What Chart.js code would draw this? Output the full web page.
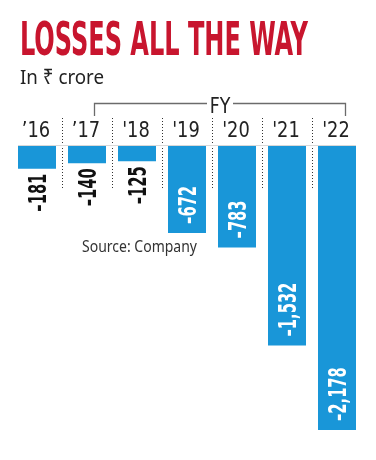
<!DOCTYPE html>
<html>
<head>
<meta charset="utf-8">
<script src="https://cdn.jsdelivr.net/npm/chart.js@4"></script>
<style>
  body { margin: 0; background: #fff; }
  #wrap { position: relative; width: 376px; height: 460px; }
</style>
</head>
<body>
<div id="wrap"><canvas id="myChart" width="376" height="460"></canvas></div>
<script>
const years = ["’16", "’17", "'18", "'19", "'20", "'21", "'22"];
const losses = [-181, -140, -125, -672, -783, -1532, -2178];
const valueLabels = ["–181", "–140", "–125", "–672", "–783", "–1,532", "–2,178"];
const insideFrom = 3; // labels from this bar on sit inside the bar

const titleText = "LOSSES ALL THE WAY";
const subtitleText = "In ₹ crore";
const sourceText = "Source: Company";

const blue = "#1996d8";
const red = "#c8152e";
const narrow = "'Liberation Sans Narrow', 'DejaVu Sans Condensed', sans-serif";

// draw text squeezed horizontally, either to a width or by a factor
function fitText(ctx, text, x, y, font, color, width, align, factor) {
  ctx.save();
  ctx.font = font;
  ctx.fillStyle = color;
  ctx.textAlign = "left";
  ctx.textBaseline = "alphabetic";
  const w = ctx.measureText(text).width;
  const sx = width ? width / w : factor || 1;
  let left = x;
  if (align === "center") left = x - (w * sx) / 2;
  ctx.translate(left, y);
  ctx.scale(sx, 1);
  ctx.fillText(text, 0, 0);
  ctx.restore();
}

const decor = {
  id: "decor",
  afterDatasetsDraw(chart) {
    const ctx = chart.ctx;
    const x = chart.scales.x;
    const y = chart.scales.y;
    const zero = y.getPixelForValue(0);
    const step = x.getPixelForValue(1) - x.getPixelForValue(0);

    // title + subtitle
    fitText(ctx, titleText, 20, 55, "bold 46px " + narrow, red, 288);
    fitText(ctx, subtitleText, 20, 84, "20px 'Noto Sans', sans-serif", "#222", 84);

    // FY bracket
    ctx.save();
    ctx.strokeStyle = "#6b6b6b";
    ctx.lineWidth = 1.3;
    ctx.beginPath();
    ctx.moveTo(94.5, 116);
    ctx.lineTo(94.5, 103.5);
    ctx.lineTo(207, 103.5);
    ctx.moveTo(233, 103.5);
    ctx.lineTo(345.5, 103.5);
    ctx.lineTo(345.5, 116);
    ctx.stroke();
    ctx.restore();
    fitText(ctx, "FY", 220, 113, "21px " + narrow, "#222", null, "center", 0.92);

    // year labels and dotted separators
    years.forEach((yr, i) => {
      const cx = x.getPixelForValue(i);
      fitText(ctx, yr, cx - 1, 137, "22px " + narrow, "#222", null, "center", 0.9);
      if (i > 0) {
        const sepX = Math.round(cx - step / 2) + 0.5;
        ctx.save();
        ctx.strokeStyle = "#333";
        ctx.lineWidth = 1;
        ctx.setLineDash([1, 2]);
        ctx.beginPath();
        ctx.moveTo(sepX, 118);
        ctx.lineTo(sepX, 190);
        ctx.stroke();
        ctx.restore();
      }
    });

    // faint zero line
    ctx.save();
    ctx.strokeStyle = "#d8d8d8";
    ctx.lineWidth = 1;
    ctx.beginPath();
    ctx.moveTo(x.getPixelForValue(0) - 19, zero + 0.5);
    ctx.lineTo(x.getPixelForValue(6) + 19, zero + 0.5);
    ctx.stroke();
    ctx.restore();

    // value labels, rotated
    const meta = chart.getDatasetMeta(0);
    ctx.save();
    ctx.font = "bold 24px " + narrow;
    const sx = 38 / ctx.measureText(valueLabels[0]).width;
    ctx.restore();
    meta.data.forEach((bar, i) => {
      const bottom = bar.y;
      const inside = i >= insideFrom;
      ctx.save();
      ctx.font = "bold 24px " + narrow;
      ctx.fillStyle = inside ? "#fff" : "#111";
      ctx.textBaseline = "alphabetic";
      ctx.translate(bar.x, inside ? bottom - 9 : bottom + 5);
      ctx.rotate(-Math.PI / 2);
      ctx.scale(sx, 1);
      ctx.textAlign = inside ? "left" : "right";
      ctx.fillText(valueLabels[i], 0, 9);
      ctx.restore();
    });

    fitText(ctx, sourceText, 82, 252, "16px 'Noto Sans', sans-serif", "#333", 115);
  }
};

const ctx = document.getElementById("myChart");
const myChart = new Chart(ctx, {
  type: "bar",
  data: {
    labels: years,
    datasets: [
      {
        data: losses,
        backgroundColor: blue,
        borderWidth: 0,
        barPercentage: 0.76,
        categoryPercentage: 1,
      },
    ],
  },
  options: {
    responsive: false,
    animation: false,
    layout: { padding: { top: 145, bottom: 30, left: 12, right: 14 } },
    scales: {
      x: { display: false },
      y: { display: false, min: -2178, max: 0 },
    },
    plugins: {
      legend: { display: false },
      tooltip: { enabled: false },
    },
  },
  plugins: [decor],
});
</script>
</body>
</html>
